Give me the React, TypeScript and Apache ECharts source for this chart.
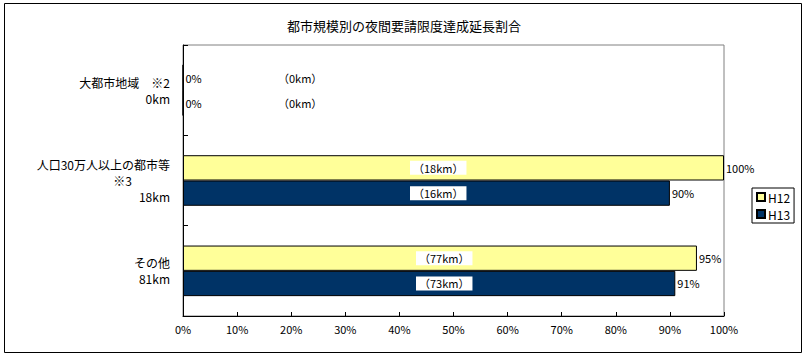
import React, { useEffect, useRef } from "react";
import * as echarts from "echarts";

const categories = ["大都市地域　※2\n0km", "人口30万人以上の都市等\n{p|※3}\n18km", "その他\n81km"];
const seriesNames = ["H12", "H13"];
const h12Values = [0, 100, 95];
const h13Values = [0, 90, 91];
const h12Km = [0, 18, 77];
const h13Km = [0, 16, 73];
const xTicks = [0, 10, 20, 30, 40, 50, 60, 70, 80, 90, 100];

const FONT = "'Noto Sans CJK JP', 'Noto Sans', sans-serif";

export default function App() {
  const ref = useRef<HTMLDivElement>(null);
  useEffect(() => {
    if (!ref.current) return;
    const chart = echarts.init(ref.current, undefined, { renderer: "svg" });

    const kmLabelX = (v: number, i: number) => (v === 0 ? 92 : i === 2 ? 233 : 227);

    const ghost = (stack: string, km: number[], vals: number[]) => ({
      type: "bar",
      name: "_" + stack,
      stack,
      silent: true,
      itemStyle: { color: "transparent", borderWidth: 0 },
      data: km.map((k, i) => ({
        value: 0,
        label: {
          show: true,
          position: [kmLabelX(vals[i], i), "50%"],
          verticalAlign: "middle",
          formatter: "（" + k + "km）",
          backgroundColor: vals[i] === 0 ? "transparent" : "#ffffff",
          padding: [2, 3, 1, 3],
          color: "#000",
          fontSize: 11,
          fontFamily: FONT,
        },
      })),
    });

    const main = (name: string, stack: string, vals: number[], color: string) => ({
      type: "bar",
      name,
      stack,
      itemStyle: { color, borderColor: "#000", borderWidth: 1 },
      label: {
        show: true,
        position: "right",
        distance: 2,
        formatter: (p: any) => p.value + "%",
        color: "#000",
        fontSize: 11,
        fontFamily: FONT,
      },
      data: vals,
    });

    chart.setOption({
      animation: false,
      textStyle: { fontFamily: FONT },
      title: {
        text: "都市規模別の夜間要請限度達成延長割合",
        left: "center",
        top: 14,
        textStyle: { fontSize: 13, fontWeight: "normal", color: "#000", fontFamily: FONT },
      },
      graphic: [
        {
          type: "rect",
          shape: { x: 4.5, y: 3.5, width: 797, height: 349 },
          style: { fill: "none", stroke: "#000", lineWidth: 1 },
          silent: true,
        },
      ],
      legend: {
        data: seriesNames,
        orient: "vertical",
        left: 752,
        top: 188,
        itemWidth: 8,
        itemHeight: 8,
        itemGap: 5,
        icon: "rect",
        borderColor: "#000",
        borderWidth: 1,
        padding: [3, 4, 3, 4],
        textStyle: { fontSize: 12, color: "#000", fontFamily: FONT, padding: [0, 0, 0, -2] },
      },
      grid: {
        left: 183,
        top: 45,
        right: 84,
        bottom: 41,
        show: true,
        borderColor: "#808080",
        borderWidth: 1,
        backgroundColor: "transparent",
      },
      xAxis: {
        type: "value",
        min: xTicks[0],
        max: xTicks[xTicks.length - 1],
        interval: 10,
        splitLine: { show: false },
        axisLine: { show: true, lineStyle: { color: "#000", width: 1 } },
        axisTick: { show: true, inside: true, length: 4, lineStyle: { color: "#000" } },
        axisLabel: { formatter: "{value}%", color: "#000", fontSize: 11, margin: 7, fontFamily: FONT },
      },
      yAxis: {
        type: "category",
        inverse: true,
        data: categories,
        axisLine: { show: true, lineStyle: { color: "#000", width: 1 } },
        axisTick: { show: true, inside: true, length: 5, lineStyle: { color: "#000" } },
        axisLabel: {
          color: "#000",
          fontSize: 12,
          lineHeight: 16,
          margin: 13,
          align: "right",
          fontFamily: FONT,
          rich: { p: { fontSize: 12, lineHeight: 16, padding: [0, 38, 0, 0], fontFamily: FONT, color: "#000" } },
        },
      },
      series: [
        { ...ghost("h12", h12Km, h12Values), barCategoryGap: "44%", barGap: "0%" },
        main("H12", "h12", h12Values, "#FFFF99"),
        ghost("h13", h13Km, h13Values),
        main("H13", "h13", h13Values, "#003366"),
      ],
    });
    return () => chart.dispose();
  }, []);
  return (
    <div style={{ position: "absolute", left: 0, top: 0, width: 808, height: 357, background: "#fff" }}>
      <div ref={ref} style={{ width: 808, height: 357 }} />
    </div>
  );
}
